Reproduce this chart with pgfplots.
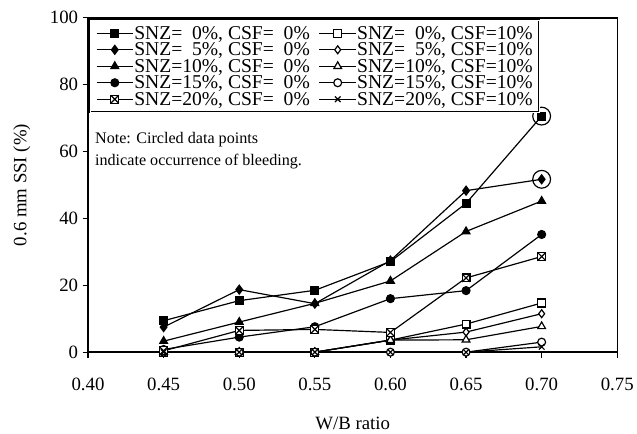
\documentclass[border=0pt]{standalone}
\usepackage{fontspec}
\setmainfont{Liberation Serif}
\usepackage{pgfplots}
\pgfplotsset{compat=1.18}
\pgfdeclareplotmark{boxx}{%
  \pgfpathrectangle{\pgfqpoint{-\pgfplotmarksize}{-\pgfplotmarksize}}{\pgfqpoint{2\pgfplotmarksize}{2\pgfplotmarksize}}%
  \pgfusepathqfillstroke
  \pgfpathmoveto{\pgfqpoint{-\pgfplotmarksize}{-\pgfplotmarksize}}%
  \pgfpathlineto{\pgfqpoint{\pgfplotmarksize}{\pgfplotmarksize}}%
  \pgfpathmoveto{\pgfqpoint{-\pgfplotmarksize}{\pgfplotmarksize}}%
  \pgfpathlineto{\pgfqpoint{\pgfplotmarksize}{-\pgfplotmarksize}}%
  \pgfusepathqstroke
}
\newcommand{\ph}{\phantom{1}}
\begin{document}
\begin{tikzpicture}
\begin{axis}[
  name=main,
  scale only axis,
  width=535pt, height=338pt,
  xmin=0.40, xmax=0.75, ymin=0, ymax=100,
  xtick={0.40,0.45,0.50,0.55,0.60,0.65,0.70,0.75},
  ytick={0,20,40,60,80,100},
  tick align=outside, tick pos=left,
  major tick length=5.5pt,
  axis line style={line width=1.5pt},
  tick style={line width=1.3pt, black},
  /pgf/number format/assume math mode=true,
  xticklabel style={/pgf/number format/.cd, fixed, fixed zerofill, precision=2, /tikz/.cd, yshift=-17pt},
  yticklabel style={xshift=-1pt},
  tick label style={font=\fontsize{19}{19}\selectfont},
  xlabel={W/B ratio}, ylabel={0.6 mm SSI (\%)},
  xlabel shift=20pt, ylabel shift=13pt,
  label style={font=\fontsize{19}{19}\selectfont},
  legend columns=2,
  legend cell align=left,
  legend style={at={(0.003,0.994)}, anchor=north west,
    draw=black, line width=0.7pt, double, double distance=0.8pt,
    font=\fontsize{19.8}{19.8}\selectfont,
    inner xsep=6pt, inner ysep=5pt,
    nodes={text height=14.5pt, text depth=2.15pt, inner sep=0pt, inner xsep=0.6pt},
    /tikz/every even column/.append style={column sep=8.5pt}},
  legend image code/.code={\draw[mark repeat=2,mark phase=2,#1] plot coordinates {(0pt,0pt) (18.5pt,0pt) (37pt,0pt)};},
  every axis plot/.append style={black, line width=1.2pt},
  every mark/.append style={solid, line width=0.9pt},
  clip=false,
]
% SNZ=0, CSF=0
\addplot[mark=square*, mark size=4pt] coordinates {(0.45,9.4)(0.50,15.4)(0.55,18.5)(0.60,27.1)(0.65,44.5)(0.70,70.6)};
\addlegendentry{SNZ=\ph0\%, CSF=\ph0\%}
% SNZ=0, CSF=10
\addplot[mark=square*, mark options={fill=white}, mark size=4pt] coordinates {(0.45,0)(0.50,0)(0.55,0)(0.60,3.6)(0.65,8.4)(0.70,14.7)};
\addlegendentry{SNZ=\ph0\%, CSF=10\%}
% SNZ=5, CSF=0
\addplot[mark=diamond*, mark size=4.5pt] coordinates {(0.45,7.5)(0.50,18.7)(0.55,14.5)(0.60,27.4)(0.65,48.3)(0.70,51.7)};
\addlegendentry{SNZ=\ph5\%, CSF=\ph0\%}
% SNZ=5, CSF=10
\addplot[mark=diamond*, mark options={fill=white}, mark size=4pt] coordinates {(0.45,0)(0.50,0)(0.55,0)(0.60,3.6)(0.65,6.0)(0.70,11.5)};
\addlegendentry{SNZ=\ph5\%, CSF=10\%}
% SNZ=10, CSF=0
\addplot[mark=triangle*, mark size=4.5pt] coordinates {(0.45,3.3)(0.50,9.0)(0.55,14.6)(0.60,21.3)(0.65,36.1)(0.70,45.2)};
\addlegendentry{SNZ=10\%, CSF=\ph0\%}
% SNZ=10, CSF=10
\addplot[mark=triangle*, mark options={fill=white}, mark size=4.5pt] coordinates {(0.45,0)(0.50,0)(0.55,0)(0.60,3.6)(0.65,3.7)(0.70,7.7)};
\addlegendentry{SNZ=10\%, CSF=10\%}
% SNZ=15, CSF=0
\addplot[mark=*, mark size=4pt] coordinates {(0.45,0.8)(0.50,4.5)(0.55,7.6)(0.60,16.0)(0.65,18.4)(0.70,35.2)};
\addlegendentry{SNZ=15\%, CSF=\ph0\%}
% SNZ=15, CSF=10
\addplot[mark=*, mark options={fill=white}, mark size=4pt] coordinates {(0.45,0)(0.50,0)(0.55,0)(0.60,0)(0.65,0)(0.70,3.0)};
\addlegendentry{SNZ=15\%, CSF=10\%}
% SNZ=20, CSF=0
\addplot[mark=boxx, mark options={fill=white}, mark size=4pt] coordinates {(0.45,0.4)(0.50,6.5)(0.55,6.8)(0.60,5.9)(0.65,22.2)(0.70,28.6)};
\addlegendentry{SNZ=20\%, CSF=\ph0\%}
% SNZ=20, CSF=10
\addplot[mark=x, mark size=4pt] coordinates {(0.45,0)(0.50,0)(0.55,0)(0.60,0)(0.65,0)(0.70,1.6)};
\addlegendentry{SNZ=20\%, CSF=10\%}
% circled (bleeding) points
\addplot[only marks, mark=o, mark size=9pt, forget plot, every mark/.append style={line width=1.2pt}] coordinates {(0.70,70.6)(0.70,51.7)};
\node[anchor=north west, align=left, font=\fontsize{16.3}{22}\selectfont, inner sep=0pt]
  at (rel axis cs:0.013,0.657) {Note: Circled data points\\indicate occurrence of bleeding.};
\end{axis}
\path ([shift={(-89pt,-72pt)}]main.south west) rectangle ([shift={(13pt,18pt)}]main.north east);
\end{tikzpicture}
\end{document}
